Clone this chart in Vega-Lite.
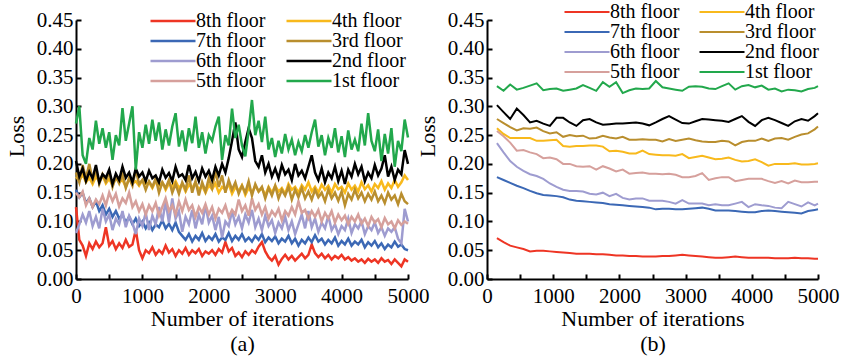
{
"$schema": "https://vega.github.io/schema/vega-lite/v6.json",
"background": "white",
"padding": {"left": 5, "top": 2, "right": 5, "bottom": 2},
"bounds": "flush",
"spacing": 79,
"config": {
 "view": {"stroke": null},
 "font": "Liberation Serif",
 "axis": {"domainColor": "#000", "domainWidth": 2, "tickColor": "#000", "tickWidth": 2, "tickSize": -5, "labelFont": "Liberation Serif", "labelFontSize": 21, "labelColor": "#000", "titleFont": "Liberation Serif", "titleFontSize": 22, "titleFontWeight": "normal", "titleColor": "#000", "grid": false},
 "legend": {"orient": "none", "direction": "vertical", "columns": 2, "title": null, "padding": 0, "symbolType": "M-1,0H5", "symbolSize": 225, "symbolStrokeWidth": 2.5, "labelFont": "Liberation Serif", "labelFontSize": 20, "labelColor": "#000", "labelLimit": 0, "labelOffset": 28, "columnPadding": 15, "rowPadding": 0}
},
"datasets": {
 "a": [
{"x":0,"8th floor":0.125,"7th floor":0.155,"6th floor":0.080,"5th floor":0.150,"4th floor":0.178,"3rd floor":0.185,"2nd floor":0.205,"1st floor":0.270},
{"x":50,"8th floor":0.068,"7th floor":0.142,"6th floor":0.095,"5th floor":0.142,"4th floor":0.170,"3rd floor":0.168,"2nd floor":0.178,"1st floor":0.300},
{"x":100,"8th floor":0.058,"7th floor":0.150,"6th floor":0.112,"5th floor":0.152,"4th floor":0.182,"3rd floor":0.198,"2nd floor":0.192,"1st floor":0.215},
{"x":150,"8th floor":0.040,"7th floor":0.132,"6th floor":0.098,"5th floor":0.128,"4th floor":0.168,"3rd floor":0.175,"2nd floor":0.170,"1st floor":0.200},
{"x":200,"8th floor":0.062,"7th floor":0.140,"6th floor":0.118,"5th floor":0.140,"4th floor":0.176,"3rd floor":0.200,"2nd floor":0.186,"1st floor":0.245},
{"x":250,"8th floor":0.052,"7th floor":0.125,"6th floor":0.092,"5th floor":0.125,"4th floor":0.165,"3rd floor":0.172,"2nd floor":0.175,"1st floor":0.225},
{"x":300,"8th floor":0.065,"7th floor":0.135,"6th floor":0.108,"5th floor":0.138,"4th floor":0.178,"3rd floor":0.190,"2nd floor":0.198,"1st floor":0.275},
{"x":350,"8th floor":0.055,"7th floor":0.118,"6th floor":0.088,"5th floor":0.130,"4th floor":0.170,"3rd floor":0.165,"2nd floor":0.168,"1st floor":0.235},
{"x":400,"8th floor":0.062,"7th floor":0.128,"6th floor":0.122,"5th floor":0.145,"4th floor":0.180,"3rd floor":0.182,"2nd floor":0.182,"1st floor":0.262},
{"x":450,"8th floor":0.090,"7th floor":0.112,"6th floor":0.100,"5th floor":0.128,"4th floor":0.166,"3rd floor":0.170,"2nd floor":0.176,"1st floor":0.228},
{"x":500,"8th floor":0.058,"7th floor":0.122,"6th floor":0.112,"5th floor":0.150,"4th floor":0.174,"3rd floor":0.186,"2nd floor":0.190,"1st floor":0.255},
{"x":550,"8th floor":0.066,"7th floor":0.108,"6th floor":0.085,"5th floor":0.135,"4th floor":0.163,"3rd floor":0.160,"2nd floor":0.165,"1st floor":0.207},
{"x":600,"8th floor":0.052,"7th floor":0.118,"6th floor":0.105,"5th floor":0.148,"4th floor":0.176,"3rd floor":0.178,"2nd floor":0.183,"1st floor":0.250},
{"x":650,"8th floor":0.062,"7th floor":0.105,"6th floor":0.095,"5th floor":0.126,"4th floor":0.168,"3rd floor":0.166,"2nd floor":0.172,"1st floor":0.232},
{"x":700,"8th floor":0.054,"7th floor":0.112,"6th floor":0.118,"5th floor":0.140,"4th floor":0.172,"3rd floor":0.182,"2nd floor":0.195,"1st floor":0.297},
{"x":750,"8th floor":0.068,"7th floor":0.098,"6th floor":0.090,"5th floor":0.132,"4th floor":0.160,"3rd floor":0.158,"2nd floor":0.176,"1st floor":0.240},
{"x":800,"8th floor":0.056,"7th floor":0.108,"6th floor":0.110,"5th floor":0.150,"4th floor":0.175,"3rd floor":0.175,"2nd floor":0.185,"1st floor":0.270},
{"x":850,"8th floor":0.060,"7th floor":0.095,"6th floor":0.098,"5th floor":0.125,"4th floor":0.166,"3rd floor":0.162,"2nd floor":0.168,"1st floor":0.300},
{"x":900,"8th floor":0.085,"7th floor":0.105,"6th floor":0.078,"5th floor":0.135,"4th floor":0.170,"3rd floor":0.190,"2nd floor":0.192,"1st floor":0.190},
{"x":950,"8th floor":0.050,"7th floor":0.092,"6th floor":0.105,"5th floor":0.118,"4th floor":0.162,"3rd floor":0.165,"2nd floor":0.178,"1st floor":0.255},
{"x":1000,"8th floor":0.036,"7th floor":0.100,"6th floor":0.092,"5th floor":0.130,"4th floor":0.172,"3rd floor":0.172,"2nd floor":0.185,"1st floor":0.228},
{"x":1050,"8th floor":0.050,"7th floor":0.088,"6th floor":0.115,"5th floor":0.112,"4th floor":0.165,"3rd floor":0.155,"2nd floor":0.170,"1st floor":0.268},
{"x":1100,"8th floor":0.045,"7th floor":0.098,"6th floor":0.085,"5th floor":0.128,"4th floor":0.168,"3rd floor":0.170,"2nd floor":0.188,"1st floor":0.235},
{"x":1150,"8th floor":0.055,"7th floor":0.085,"6th floor":0.110,"5th floor":0.118,"4th floor":0.158,"3rd floor":0.160,"2nd floor":0.175,"1st floor":0.277},
{"x":1200,"8th floor":0.042,"7th floor":0.095,"6th floor":0.095,"5th floor":0.132,"4th floor":0.170,"3rd floor":0.175,"2nd floor":0.180,"1st floor":0.240},
{"x":1250,"8th floor":0.050,"7th floor":0.090,"6th floor":0.125,"5th floor":0.110,"4th floor":0.162,"3rd floor":0.150,"2nd floor":0.168,"1st floor":0.272},
{"x":1300,"8th floor":0.044,"7th floor":0.102,"6th floor":0.100,"5th floor":0.125,"4th floor":0.168,"3rd floor":0.168,"2nd floor":0.190,"1st floor":0.225},
{"x":1350,"8th floor":0.058,"7th floor":0.088,"6th floor":0.135,"5th floor":0.140,"4th floor":0.155,"3rd floor":0.158,"2nd floor":0.176,"1st floor":0.260},
{"x":1400,"8th floor":0.046,"7th floor":0.096,"6th floor":0.098,"5th floor":0.118,"4th floor":0.166,"3rd floor":0.172,"2nd floor":0.184,"1st floor":0.232},
{"x":1450,"8th floor":0.052,"7th floor":0.085,"6th floor":0.140,"5th floor":0.128,"4th floor":0.160,"3rd floor":0.150,"2nd floor":0.170,"1st floor":0.265},
{"x":1500,"8th floor":0.040,"7th floor":0.098,"6th floor":0.105,"5th floor":0.112,"4th floor":0.170,"3rd floor":0.165,"2nd floor":0.195,"1st floor":0.288},
{"x":1550,"8th floor":0.050,"7th floor":0.082,"6th floor":0.118,"5th floor":0.135,"4th floor":0.158,"3rd floor":0.148,"2nd floor":0.178,"1st floor":0.230},
{"x":1600,"8th floor":0.044,"7th floor":0.075,"6th floor":0.082,"5th floor":0.118,"4th floor":0.165,"3rd floor":0.168,"2nd floor":0.182,"1st floor":0.258},
{"x":1650,"8th floor":0.054,"7th floor":0.068,"6th floor":0.108,"5th floor":0.138,"4th floor":0.152,"3rd floor":0.155,"2nd floor":0.172,"1st floor":0.222},
{"x":1700,"8th floor":0.042,"7th floor":0.078,"6th floor":0.095,"5th floor":0.120,"4th floor":0.164,"3rd floor":0.180,"2nd floor":0.198,"1st floor":0.262},
{"x":1750,"8th floor":0.050,"7th floor":0.065,"6th floor":0.120,"5th floor":0.128,"4th floor":0.158,"3rd floor":0.150,"2nd floor":0.175,"1st floor":0.236},
{"x":1800,"8th floor":0.045,"7th floor":0.075,"6th floor":0.088,"5th floor":0.108,"4th floor":0.168,"3rd floor":0.170,"2nd floor":0.186,"1st floor":0.282},
{"x":1850,"8th floor":0.052,"7th floor":0.068,"6th floor":0.112,"5th floor":0.125,"4th floor":0.155,"3rd floor":0.145,"2nd floor":0.170,"1st floor":0.228},
{"x":1900,"8th floor":0.040,"7th floor":0.080,"6th floor":0.095,"5th floor":0.115,"4th floor":0.162,"3rd floor":0.168,"2nd floor":0.192,"1st floor":0.255},
{"x":1950,"8th floor":0.048,"7th floor":0.066,"6th floor":0.128,"5th floor":0.130,"4th floor":0.150,"3rd floor":0.152,"2nd floor":0.178,"1st floor":0.218},
{"x":2000,"8th floor":0.044,"7th floor":0.074,"6th floor":0.098,"5th floor":0.112,"4th floor":0.163,"3rd floor":0.175,"2nd floor":0.188,"1st floor":0.250},
{"x":2050,"8th floor":0.050,"7th floor":0.068,"6th floor":0.110,"5th floor":0.125,"4th floor":0.156,"3rd floor":0.158,"2nd floor":0.172,"1st floor":0.240},
{"x":2100,"8th floor":0.042,"7th floor":0.078,"6th floor":0.085,"5th floor":0.105,"4th floor":0.166,"3rd floor":0.188,"2nd floor":0.195,"1st floor":0.265},
{"x":2150,"8th floor":0.052,"7th floor":0.065,"6th floor":0.108,"5th floor":0.122,"4th floor":0.150,"3rd floor":0.160,"2nd floor":0.180,"1st floor":0.282},
{"x":2200,"8th floor":0.046,"7th floor":0.072,"6th floor":0.072,"5th floor":0.115,"4th floor":0.160,"3rd floor":0.180,"2nd floor":0.200,"1st floor":0.207},
{"x":2250,"8th floor":0.064,"7th floor":0.068,"6th floor":0.100,"5th floor":0.128,"4th floor":0.155,"3rd floor":0.150,"2nd floor":0.185,"1st floor":0.250},
{"x":2300,"8th floor":0.048,"7th floor":0.080,"6th floor":0.092,"5th floor":0.108,"4th floor":0.165,"3rd floor":0.172,"2nd floor":0.210,"1st floor":0.232},
{"x":2350,"8th floor":0.054,"7th floor":0.066,"6th floor":0.118,"5th floor":0.120,"4th floor":0.148,"3rd floor":0.155,"2nd floor":0.240,"1st floor":0.296},
{"x":2400,"8th floor":0.040,"7th floor":0.075,"6th floor":0.095,"5th floor":0.112,"4th floor":0.160,"3rd floor":0.168,"2nd floor":0.272,"1st floor":0.245},
{"x":2450,"8th floor":0.046,"7th floor":0.068,"6th floor":0.108,"5th floor":0.138,"4th floor":0.153,"3rd floor":0.148,"2nd floor":0.225,"1st floor":0.268},
{"x":2500,"8th floor":0.038,"7th floor":0.078,"6th floor":0.088,"5th floor":0.118,"4th floor":0.163,"3rd floor":0.162,"2nd floor":0.212,"1st floor":0.232},
{"x":2550,"8th floor":0.048,"7th floor":0.066,"6th floor":0.112,"5th floor":0.128,"4th floor":0.146,"3rd floor":0.150,"2nd floor":0.238,"1st floor":0.213},
{"x":2600,"8th floor":0.042,"7th floor":0.072,"6th floor":0.098,"5th floor":0.110,"4th floor":0.158,"3rd floor":0.170,"2nd floor":0.262,"1st floor":0.258},
{"x":2650,"8th floor":0.050,"7th floor":0.065,"6th floor":0.120,"5th floor":0.140,"4th floor":0.150,"3rd floor":0.145,"2nd floor":0.245,"1st floor":0.311},
{"x":2700,"8th floor":0.045,"7th floor":0.075,"6th floor":0.090,"5th floor":0.120,"4th floor":0.162,"3rd floor":0.165,"2nd floor":0.205,"1st floor":0.250},
{"x":2750,"8th floor":0.056,"7th floor":0.068,"6th floor":0.105,"5th floor":0.130,"4th floor":0.152,"3rd floor":0.152,"2nd floor":0.195,"1st floor":0.275},
{"x":2800,"8th floor":0.064,"7th floor":0.078,"6th floor":0.085,"5th floor":0.112,"4th floor":0.158,"3rd floor":0.160,"2nd floor":0.215,"1st floor":0.238},
{"x":2850,"8th floor":0.048,"7th floor":0.064,"6th floor":0.110,"5th floor":0.125,"4th floor":0.145,"3rd floor":0.140,"2nd floor":0.185,"1st floor":0.282},
{"x":2900,"8th floor":0.038,"7th floor":0.072,"6th floor":0.092,"5th floor":0.105,"4th floor":0.160,"3rd floor":0.158,"2nd floor":0.200,"1st floor":0.225},
{"x":2950,"8th floor":0.032,"7th floor":0.066,"6th floor":0.102,"5th floor":0.118,"4th floor":0.150,"3rd floor":0.145,"2nd floor":0.178,"1st floor":0.245},
{"x":3000,"8th floor":0.040,"7th floor":0.074,"6th floor":0.080,"5th floor":0.110,"4th floor":0.162,"3rd floor":0.162,"2nd floor":0.192,"1st floor":0.212},
{"x":3050,"8th floor":0.025,"7th floor":0.062,"6th floor":0.098,"5th floor":0.122,"4th floor":0.152,"3rd floor":0.140,"2nd floor":0.175,"1st floor":0.240},
{"x":3100,"8th floor":0.035,"7th floor":0.070,"6th floor":0.088,"5th floor":0.102,"4th floor":0.158,"3rd floor":0.155,"2nd floor":0.198,"1st floor":0.218},
{"x":3150,"8th floor":0.042,"7th floor":0.065,"6th floor":0.108,"5th floor":0.118,"4th floor":0.148,"3rd floor":0.145,"2nd floor":0.182,"1st floor":0.252},
{"x":3200,"8th floor":0.034,"7th floor":0.075,"6th floor":0.085,"5th floor":0.110,"4th floor":0.165,"3rd floor":0.160,"2nd floor":0.190,"1st floor":0.225},
{"x":3250,"8th floor":0.040,"7th floor":0.062,"6th floor":0.100,"5th floor":0.125,"4th floor":0.155,"3rd floor":0.138,"2nd floor":0.172,"1st floor":0.242},
{"x":3300,"8th floor":0.032,"7th floor":0.070,"6th floor":0.078,"5th floor":0.112,"4th floor":0.160,"3rd floor":0.155,"2nd floor":0.200,"1st floor":0.215},
{"x":3350,"8th floor":0.038,"7th floor":0.058,"6th floor":0.095,"5th floor":0.135,"4th floor":0.150,"3rd floor":0.142,"2nd floor":0.180,"1st floor":0.238},
{"x":3400,"8th floor":0.044,"7th floor":0.068,"6th floor":0.112,"5th floor":0.115,"4th floor":0.163,"3rd floor":0.158,"2nd floor":0.188,"1st floor":0.222},
{"x":3450,"8th floor":0.036,"7th floor":0.062,"6th floor":0.088,"5th floor":0.120,"4th floor":0.155,"3rd floor":0.140,"2nd floor":0.175,"1st floor":0.250},
{"x":3500,"8th floor":0.042,"7th floor":0.072,"6th floor":0.118,"5th floor":0.105,"4th floor":0.168,"3rd floor":0.152,"2nd floor":0.195,"1st floor":0.228},
{"x":3550,"8th floor":0.060,"7th floor":0.064,"6th floor":0.090,"5th floor":0.118,"4th floor":0.152,"3rd floor":0.138,"2nd floor":0.215,"1st floor":0.255},
{"x":3600,"8th floor":0.045,"7th floor":0.076,"6th floor":0.105,"5th floor":0.108,"4th floor":0.160,"3rd floor":0.155,"2nd floor":0.185,"1st floor":0.277},
{"x":3650,"8th floor":0.038,"7th floor":0.065,"6th floor":0.082,"5th floor":0.120,"4th floor":0.150,"3rd floor":0.142,"2nd floor":0.172,"1st floor":0.230},
{"x":3700,"8th floor":0.044,"7th floor":0.070,"6th floor":0.098,"5th floor":0.100,"4th floor":0.164,"3rd floor":0.150,"2nd floor":0.192,"1st floor":0.250},
{"x":3750,"8th floor":0.036,"7th floor":0.060,"6th floor":0.088,"5th floor":0.115,"4th floor":0.155,"3rd floor":0.135,"2nd floor":0.168,"1st floor":0.215},
{"x":3800,"8th floor":0.042,"7th floor":0.068,"6th floor":0.110,"5th floor":0.105,"4th floor":0.162,"3rd floor":0.155,"2nd floor":0.185,"1st floor":0.245},
{"x":3850,"8th floor":0.034,"7th floor":0.062,"6th floor":0.085,"5th floor":0.118,"4th floor":0.150,"3rd floor":0.140,"2nd floor":0.175,"1st floor":0.228},
{"x":3900,"8th floor":0.040,"7th floor":0.072,"6th floor":0.095,"5th floor":0.098,"4th floor":0.165,"3rd floor":0.150,"2nd floor":0.195,"1st floor":0.262},
{"x":3950,"8th floor":0.036,"7th floor":0.058,"6th floor":0.078,"5th floor":0.112,"4th floor":0.156,"3rd floor":0.136,"2nd floor":0.170,"1st floor":0.220},
{"x":4000,"8th floor":0.042,"7th floor":0.066,"6th floor":0.092,"5th floor":0.102,"4th floor":0.160,"3rd floor":0.152,"2nd floor":0.188,"1st floor":0.248},
{"x":4050,"8th floor":0.034,"7th floor":0.060,"6th floor":0.085,"5th floor":0.110,"4th floor":0.150,"3rd floor":0.128,"2nd floor":0.165,"1st floor":0.212},
{"x":4100,"8th floor":0.038,"7th floor":0.070,"6th floor":0.105,"5th floor":0.095,"4th floor":0.166,"3rd floor":0.148,"2nd floor":0.190,"1st floor":0.258},
{"x":4150,"8th floor":0.032,"7th floor":0.058,"6th floor":0.080,"5th floor":0.108,"4th floor":0.155,"3rd floor":0.138,"2nd floor":0.178,"1st floor":0.225},
{"x":4200,"8th floor":0.036,"7th floor":0.065,"6th floor":0.095,"5th floor":0.100,"4th floor":0.162,"3rd floor":0.155,"2nd floor":0.200,"1st floor":0.242},
{"x":4250,"8th floor":0.030,"7th floor":0.060,"6th floor":0.088,"5th floor":0.112,"4th floor":0.152,"3rd floor":0.140,"2nd floor":0.182,"1st floor":0.222},
{"x":4300,"8th floor":0.034,"7th floor":0.068,"6th floor":0.100,"5th floor":0.096,"4th floor":0.168,"3rd floor":0.150,"2nd floor":0.195,"1st floor":0.270},
{"x":4350,"8th floor":0.028,"7th floor":0.055,"6th floor":0.078,"5th floor":0.105,"4th floor":0.156,"3rd floor":0.135,"2nd floor":0.170,"1st floor":0.232},
{"x":4400,"8th floor":0.035,"7th floor":0.064,"6th floor":0.092,"5th floor":0.092,"4th floor":0.163,"3rd floor":0.148,"2nd floor":0.185,"1st floor":0.288},
{"x":4450,"8th floor":0.030,"7th floor":0.058,"6th floor":0.085,"5th floor":0.108,"4th floor":0.152,"3rd floor":0.138,"2nd floor":0.175,"1st floor":0.240},
{"x":4500,"8th floor":0.034,"7th floor":0.066,"6th floor":0.098,"5th floor":0.098,"4th floor":0.165,"3rd floor":0.152,"2nd floor":0.198,"1st floor":0.222},
{"x":4550,"8th floor":0.028,"7th floor":0.055,"6th floor":0.080,"5th floor":0.104,"4th floor":0.158,"3rd floor":0.135,"2nd floor":0.180,"1st floor":0.260},
{"x":4600,"8th floor":0.036,"7th floor":0.062,"6th floor":0.090,"5th floor":0.090,"4th floor":0.170,"3rd floor":0.145,"2nd floor":0.192,"1st floor":0.205},
{"x":4650,"8th floor":0.030,"7th floor":0.052,"6th floor":0.075,"5th floor":0.106,"4th floor":0.155,"3rd floor":0.132,"2nd floor":0.215,"1st floor":0.252},
{"x":4700,"8th floor":0.033,"7th floor":0.060,"6th floor":0.088,"5th floor":0.095,"4th floor":0.166,"3rd floor":0.150,"2nd floor":0.178,"1st floor":0.218},
{"x":4750,"8th floor":0.026,"7th floor":0.055,"6th floor":0.082,"5th floor":0.100,"4th floor":0.158,"3rd floor":0.138,"2nd floor":0.195,"1st floor":0.262},
{"x":4800,"8th floor":0.034,"7th floor":0.065,"6th floor":0.090,"5th floor":0.088,"4th floor":0.172,"3rd floor":0.145,"2nd floor":0.172,"1st floor":0.195},
{"x":4850,"8th floor":0.028,"7th floor":0.056,"6th floor":0.070,"5th floor":0.102,"4th floor":0.160,"3rd floor":0.130,"2nd floor":0.190,"1st floor":0.240},
{"x":4900,"8th floor":0.022,"7th floor":0.060,"6th floor":0.062,"5th floor":0.094,"4th floor":0.168,"3rd floor":0.148,"2nd floor":0.182,"1st floor":0.222},
{"x":4950,"8th floor":0.034,"7th floor":0.052,"6th floor":0.122,"5th floor":0.100,"4th floor":0.180,"3rd floor":0.135,"2nd floor":0.224,"1st floor":0.277},
{"x":5000,"8th floor":0.030,"7th floor":0.050,"6th floor":0.100,"5th floor":0.096,"4th floor":0.172,"3rd floor":0.130,"2nd floor":0.200,"1st floor":0.246}
 ],
 "b": [
{"x":150,"8th floor":0.071,"7th floor":0.177,"6th floor":0.236,"5th floor":0.257,"4th floor":0.262,"3rd floor":0.278,"2nd floor":0.302,"1st floor":0.335},
{"x":250,"8th floor":0.064,"7th floor":0.172,"6th floor":0.220,"5th floor":0.248,"4th floor":0.252,"3rd floor":0.271,"2nd floor":0.290,"1st floor":0.327},
{"x":350,"8th floor":0.058,"7th floor":0.167,"6th floor":0.205,"5th floor":0.237,"4th floor":0.245,"3rd floor":0.264,"2nd floor":0.278,"1st floor":0.338},
{"x":450,"8th floor":0.055,"7th floor":0.162,"6th floor":0.195,"5th floor":0.223,"4th floor":0.245,"3rd floor":0.258,"2nd floor":0.296,"1st floor":0.329},
{"x":550,"8th floor":0.052,"7th floor":0.158,"6th floor":0.188,"5th floor":0.224,"4th floor":0.245,"3rd floor":0.262,"2nd floor":0.285,"1st floor":0.332},
{"x":650,"8th floor":0.048,"7th floor":0.153,"6th floor":0.182,"5th floor":0.220,"4th floor":0.245,"3rd floor":0.261,"2nd floor":0.272,"1st floor":0.336},
{"x":750,"8th floor":0.049,"7th floor":0.149,"6th floor":0.179,"5th floor":0.217,"4th floor":0.240,"3rd floor":0.263,"2nd floor":0.275,"1st floor":0.340},
{"x":850,"8th floor":0.049,"7th floor":0.146,"6th floor":0.174,"5th floor":0.210,"4th floor":0.240,"3rd floor":0.257,"2nd floor":0.270,"1st floor":0.328},
{"x":950,"8th floor":0.048,"7th floor":0.145,"6th floor":0.166,"5th floor":0.211,"4th floor":0.241,"3rd floor":0.253,"2nd floor":0.266,"1st floor":0.330},
{"x":1050,"8th floor":0.047,"7th floor":0.144,"6th floor":0.160,"5th floor":0.208,"4th floor":0.242,"3rd floor":0.255,"2nd floor":0.280,"1st floor":0.331},
{"x":1150,"8th floor":0.046,"7th floor":0.142,"6th floor":0.155,"5th floor":0.200,"4th floor":0.231,"3rd floor":0.247,"2nd floor":0.280,"1st floor":0.327},
{"x":1250,"8th floor":0.045,"7th floor":0.138,"6th floor":0.153,"5th floor":0.200,"4th floor":0.230,"3rd floor":0.250,"2nd floor":0.272,"1st floor":0.329},
{"x":1350,"8th floor":0.044,"7th floor":0.136,"6th floor":0.153,"5th floor":0.196,"4th floor":0.231,"3rd floor":0.248,"2nd floor":0.266,"1st floor":0.331},
{"x":1450,"8th floor":0.044,"7th floor":0.135,"6th floor":0.152,"5th floor":0.195,"4th floor":0.231,"3rd floor":0.249,"2nd floor":0.276,"1st floor":0.337},
{"x":1550,"8th floor":0.044,"7th floor":0.134,"6th floor":0.148,"5th floor":0.196,"4th floor":0.232,"3rd floor":0.244,"2nd floor":0.278,"1st floor":0.332},
{"x":1650,"8th floor":0.043,"7th floor":0.133,"6th floor":0.147,"5th floor":0.190,"4th floor":0.232,"3rd floor":0.245,"2nd floor":0.272,"1st floor":0.327},
{"x":1750,"8th floor":0.043,"7th floor":0.132,"6th floor":0.150,"5th floor":0.196,"4th floor":0.230,"3rd floor":0.249,"2nd floor":0.268,"1st floor":0.342},
{"x":1850,"8th floor":0.042,"7th floor":0.130,"6th floor":0.144,"5th floor":0.192,"4th floor":0.222,"3rd floor":0.246,"2nd floor":0.269,"1st floor":0.334},
{"x":1950,"8th floor":0.041,"7th floor":0.129,"6th floor":0.148,"5th floor":0.187,"4th floor":0.223,"3rd floor":0.244,"2nd floor":0.270,"1st floor":0.342},
{"x":2050,"8th floor":0.041,"7th floor":0.128,"6th floor":0.141,"5th floor":0.190,"4th floor":0.221,"3rd floor":0.247,"2nd floor":0.270,"1st floor":0.323},
{"x":2150,"8th floor":0.040,"7th floor":0.127,"6th floor":0.138,"5th floor":0.183,"4th floor":0.218,"3rd floor":0.242,"2nd floor":0.271,"1st floor":0.328},
{"x":2250,"8th floor":0.040,"7th floor":0.126,"6th floor":0.140,"5th floor":0.184,"4th floor":0.218,"3rd floor":0.242,"2nd floor":0.272,"1st floor":0.331},
{"x":2350,"8th floor":0.039,"7th floor":0.125,"6th floor":0.140,"5th floor":0.185,"4th floor":0.223,"3rd floor":0.243,"2nd floor":0.270,"1st floor":0.330},
{"x":2450,"8th floor":0.039,"7th floor":0.124,"6th floor":0.136,"5th floor":0.183,"4th floor":0.217,"3rd floor":0.242,"2nd floor":0.267,"1st floor":0.331},
{"x":2550,"8th floor":0.039,"7th floor":0.121,"6th floor":0.136,"5th floor":0.183,"4th floor":0.216,"3rd floor":0.242,"2nd floor":0.272,"1st floor":0.344},
{"x":2650,"8th floor":0.040,"7th floor":0.122,"6th floor":0.136,"5th floor":0.182,"4th floor":0.215,"3rd floor":0.239,"2nd floor":0.278,"1st floor":0.333},
{"x":2750,"8th floor":0.040,"7th floor":0.122,"6th floor":0.134,"5th floor":0.183,"4th floor":0.215,"3rd floor":0.243,"2nd floor":0.283,"1st floor":0.331},
{"x":2850,"8th floor":0.041,"7th floor":0.121,"6th floor":0.131,"5th floor":0.181,"4th floor":0.214,"3rd floor":0.240,"2nd floor":0.277,"1st floor":0.329},
{"x":2950,"8th floor":0.042,"7th floor":0.121,"6th floor":0.137,"5th floor":0.177,"4th floor":0.217,"3rd floor":0.242,"2nd floor":0.271,"1st floor":0.327},
{"x":3050,"8th floor":0.041,"7th floor":0.122,"6th floor":0.131,"5th floor":0.177,"4th floor":0.210,"3rd floor":0.244,"2nd floor":0.270,"1st floor":0.334},
{"x":3150,"8th floor":0.040,"7th floor":0.123,"6th floor":0.131,"5th floor":0.179,"4th floor":0.212,"3rd floor":0.241,"2nd floor":0.274,"1st floor":0.335},
{"x":3250,"8th floor":0.039,"7th floor":0.124,"6th floor":0.131,"5th floor":0.184,"4th floor":0.214,"3rd floor":0.239,"2nd floor":0.278,"1st floor":0.334},
{"x":3350,"8th floor":0.038,"7th floor":0.122,"6th floor":0.128,"5th floor":0.172,"4th floor":0.211,"3rd floor":0.238,"2nd floor":0.277,"1st floor":0.331},
{"x":3450,"8th floor":0.037,"7th floor":0.119,"6th floor":0.130,"5th floor":0.175,"4th floor":0.208,"3rd floor":0.238,"2nd floor":0.276,"1st floor":0.330},
{"x":3550,"8th floor":0.037,"7th floor":0.119,"6th floor":0.128,"5th floor":0.177,"4th floor":0.209,"3rd floor":0.240,"2nd floor":0.275,"1st floor":0.335},
{"x":3650,"8th floor":0.038,"7th floor":0.119,"6th floor":0.128,"5th floor":0.177,"4th floor":0.211,"3rd floor":0.239,"2nd floor":0.273,"1st floor":0.340},
{"x":3750,"8th floor":0.039,"7th floor":0.118,"6th floor":0.131,"5th floor":0.170,"4th floor":0.207,"3rd floor":0.232,"2nd floor":0.278,"1st floor":0.329},
{"x":3850,"8th floor":0.038,"7th floor":0.117,"6th floor":0.134,"5th floor":0.172,"4th floor":0.204,"3rd floor":0.238,"2nd floor":0.283,"1st floor":0.335},
{"x":3950,"8th floor":0.037,"7th floor":0.116,"6th floor":0.125,"5th floor":0.174,"4th floor":0.205,"3rd floor":0.240,"2nd floor":0.273,"1st floor":0.337},
{"x":4050,"8th floor":0.037,"7th floor":0.116,"6th floor":0.130,"5th floor":0.174,"4th floor":0.208,"3rd floor":0.240,"2nd floor":0.266,"1st floor":0.333},
{"x":4150,"8th floor":0.037,"7th floor":0.118,"6th floor":0.128,"5th floor":0.174,"4th floor":0.203,"3rd floor":0.244,"2nd floor":0.276,"1st floor":0.336},
{"x":4250,"8th floor":0.037,"7th floor":0.119,"6th floor":0.127,"5th floor":0.170,"4th floor":0.197,"3rd floor":0.240,"2nd floor":0.280,"1st floor":0.329},
{"x":4350,"8th floor":0.036,"7th floor":0.118,"6th floor":0.124,"5th floor":0.167,"4th floor":0.200,"3rd floor":0.244,"2nd floor":0.276,"1st floor":0.331},
{"x":4450,"8th floor":0.036,"7th floor":0.117,"6th floor":0.123,"5th floor":0.170,"4th floor":0.200,"3rd floor":0.245,"2nd floor":0.271,"1st floor":0.326},
{"x":4550,"8th floor":0.036,"7th floor":0.116,"6th floor":0.134,"5th floor":0.166,"4th floor":0.200,"3rd floor":0.242,"2nd floor":0.266,"1st floor":0.329},
{"x":4650,"8th floor":0.037,"7th floor":0.115,"6th floor":0.130,"5th floor":0.171,"4th floor":0.201,"3rd floor":0.247,"2nd floor":0.274,"1st floor":0.328},
{"x":4750,"8th floor":0.036,"7th floor":0.114,"6th floor":0.126,"5th floor":0.168,"4th floor":0.199,"3rd floor":0.251,"2nd floor":0.278,"1st floor":0.326},
{"x":4850,"8th floor":0.036,"7th floor":0.118,"6th floor":0.133,"5th floor":0.168,"4th floor":0.199,"3rd floor":0.253,"2nd floor":0.275,"1st floor":0.330},
{"x":4950,"8th floor":0.035,"7th floor":0.120,"6th floor":0.128,"5th floor":0.169,"4th floor":0.200,"3rd floor":0.260,"2nd floor":0.283,"1st floor":0.332},
{"x":5000,"8th floor":0.035,"7th floor":0.121,"6th floor":0.131,"5th floor":0.169,"4th floor":0.201,"3rd floor":0.265,"2nd floor":0.288,"1st floor":0.335}
 ]
},
"resolve": {"legend": {"color": "independent"}},
"hconcat": [
 {
  "width": 332, "height": 259,
  "data": {"name": "a"},
  "transform": [{"fold": ["8th floor","7th floor","6th floor","5th floor","4th floor","3rd floor","2nd floor","1st floor"], "as": ["floor","loss"]}],
  "mark": {"type": "line", "strokeWidth": 2.5},
  "encoding": {
   "x": {"field": "x", "type": "quantitative", "scale": {"domain": [0, 5000], "nice": false},
         "axis": {"values": [0,500,1000,1500,2000,2500,3000,3500,4000,4500,5000], "format": "d", "labelExpr": "datum.value % 1000 === 0 ? datum.label : ''", "labelPadding": 11, "labelFlush": false, "title": ["Number of iterations", "(a)"], "titleLineHeight": 25, "titlePadding": 2}},
   "y": {"field": "loss", "type": "quantitative", "scale": {"domain": [0, 0.45], "nice": false},
         "axis": {"values": [0,0.05,0.1,0.15,0.2,0.25,0.3,0.35,0.4,0.45], "format": ".2f", "labelPadding": 8, "title": "Loss", "titlePadding": 8, "titleY": 116}},
   "color": {"field": "floor", "type": "nominal",
     "scale": {"domain": ["8th floor","7th floor","6th floor","5th floor","4th floor","3rd floor","2nd floor","1st floor"], "range": ["#EE3524","#3B68B5","#9E9CD0","#D6A09C","#F8B91C","#B98E2E","#000000","#22A84C"]},
     "legend": {"legendX": 72, "legendY": -9}}
  }
 },
 {
  "width": 331, "height": 259,
  "data": {"name": "b"},
  "transform": [{"fold": ["8th floor","7th floor","6th floor","5th floor","4th floor","3rd floor","2nd floor","1st floor"], "as": ["floor","loss"]}],
  "mark": {"type": "line", "strokeWidth": 2},
  "encoding": {
   "x": {"field": "x", "type": "quantitative", "scale": {"domain": [0, 5000], "nice": false},
         "axis": {"values": [0,500,1000,1500,2000,2500,3000,3500,4000,4500,5000], "format": "d", "labelExpr": "datum.value % 1000 === 0 ? datum.label : ''", "labelPadding": 11, "labelFlush": false, "title": ["Number of iterations", "(b)"], "titleLineHeight": 25, "titlePadding": 2}},
   "y": {"field": "loss", "type": "quantitative", "scale": {"domain": [0, 0.45], "nice": false},
         "axis": {"values": [0,0.05,0.1,0.15,0.2,0.25,0.3,0.35,0.4,0.45], "format": ".2f", "labelPadding": 8, "title": "Loss", "titlePadding": 8, "titleY": 116}},
   "color": {"field": "floor", "type": "nominal",
     "scale": {"domain": ["8th floor","7th floor","6th floor","5th floor","4th floor","3rd floor","2nd floor","1st floor"], "range": ["#EE3524","#3B68B5","#9E9CD0","#D6A09C","#F8B91C","#B98E2E","#000000","#22A84C"]},
     "legend": {"legendX": 75, "legendY": -18, "symbolStrokeWidth": 2}}
  }
 }
]
}
